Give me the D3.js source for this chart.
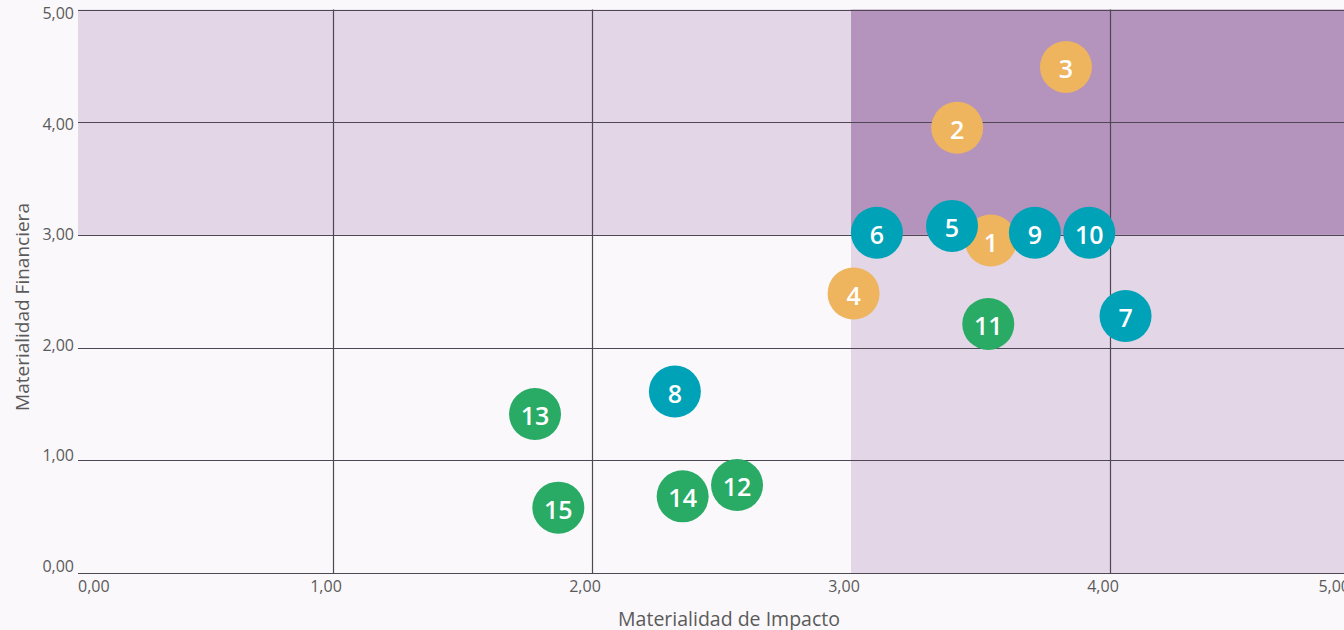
<!DOCTYPE html>
<html lang="es">
<head>
<meta charset="utf-8">
<script src="https://cdn.jsdelivr.net/npm/d3@7"></script>
<style>
  html, body { margin: 0; padding: 0; background: #faf8fb; overflow: hidden; }
  svg { display: block; font-family: "Open Sans", "Noto Sans", sans-serif; }
</style>
</head>
<body>
<svg id="chart" width="1344" height="630"></svg>
<script>
// Materiality matrix: topic id, impact materiality, financial materiality, group
const topicIds   = [1, 2, 3, 4, 5, 6, 7, 8, 9, 10, 11, 12, 13, 14, 15];
const impact     = [3.54, 3.41, 3.83, 3.01, 3.39, 3.10, 4.06, 2.32, 3.71, 3.92, 3.53, 2.56, 1.78, 2.35, 1.87];
const financial  = [2.95, 3.95, 4.49, 2.48, 3.08, 3.02, 2.28, 1.61, 3.02, 3.02, 2.21, 0.78, 1.41, 0.68, 0.58];
const group      = ["A", "A", "A", "A", "B", "B", "B", "B", "B", "B", "C", "C", "C", "C", "C"];
const groupNames = ["A", "B", "C"];
const groupColors = ["#eeb45e", "#00a2b7", "#29ab66"];

const tickValues = [0, 1, 2, 3, 4, 5];
const tickLabels = ["0,00", "1,00", "2,00", "3,00", "4,00", "5,00"];
const threshold = 3;   // materiality threshold on both axes

const xTitle = "Materialidad de Impacto";
const yTitle = "Materialidad Financiera";

const svg = d3.select("#chart");
const plotLeft = 78;

const x = d3.scaleLinear().domain([0, 5]).range([74, 1369]);
const y = d3.scaleLinear().domain([0, 5]).range([573, 9.5]);
// tick label placement scales
const xl = d3.scaleLinear().domain([0, 5]).range([67, 1362]);
const yl = d3.scaleLinear().domain([0, 5]).range([566, 13]);
const color = d3.scaleOrdinal().domain(groupNames).range(groupColors);

// shaded regions of the matrix
const regions = [
  { x0: 0, x1: threshold, y0: threshold, y1: 5, fill: "#e2d6e7" },
  { x0: threshold, x1: 5, y0: 0, y1: threshold, fill: "#e2d6e7" },
  { x0: threshold, x1: 5, y0: threshold, y1: 5, fill: "#b494bd" }
];
svg.append("g").selectAll("rect").data(regions).join("rect")
  .attr("x", d => Math.max(plotLeft, x(d.x0)))
  .attr("width", d => x(d.x1) - Math.max(plotLeft, x(d.x0)))
  .attr("y", d => y(d.y1)).attr("height", d => y(d.y0) - y(d.y1))
  .attr("fill", d => d.fill);

// grid
const grid = svg.append("g").attr("stroke", "#4f4753").attr("stroke-width", 1.2);
grid.selectAll("line.h").data(tickValues).join("line").attr("class", "h")
  .attr("x1", plotLeft).attr("x2", x(5))
  .attr("y1", d => Math.round(y(d)) + 0.5).attr("y2", d => Math.round(y(d)) + 0.5);
grid.selectAll("line.v").data(tickValues.filter(v => v !== 0 && v !== threshold)).join("line").attr("class", "v")
  .attr("y1", y(5)).attr("y2", y(0))
  .attr("x1", d => Math.round(x(d)) + 0.5).attr("x2", d => Math.round(x(d)) + 0.5);

// tick labels
const tickFont = 16, tickColor = "#5a5a5a";
svg.append("g").selectAll("text").data(tickValues).join("text")
  .attr("x", 74).attr("y", d => yl(d))
  .attr("text-anchor", "end").attr("dominant-baseline", "central")
  .attr("font-size", tickFont).attr("fill", tickColor)
  .text((d, i) => tickLabels[i]);

svg.append("g").selectAll("text").data(tickValues).join("text")
  .attr("x", d => d === 0 ? plotLeft : d === 5 ? 1350 : xl(d))
  .attr("y", 586)
  .attr("text-anchor", d => d === 0 ? "start" : d === 5 ? "end" : "middle")
  .attr("dominant-baseline", "central")
  .attr("font-size", tickFont).attr("fill", tickColor)
  .text((d, i) => tickLabels[i]);

// axis titles
svg.append("text").attr("x", 729).attr("y", 618)
  .attr("text-anchor", "middle").attr("dominant-baseline", "central")
  .attr("font-size", 19.5).attr("fill", "#5a5a5a").text(xTitle);
svg.append("text").attr("transform", "translate(22,307) rotate(-90)")
  .attr("text-anchor", "middle").attr("dominant-baseline", "central")
  .attr("font-size", 19).attr("fill", "#5a5a5a").text(yTitle);

// topic bubbles
const pts = topicIds.map((id, i) => ({ id, ix: impact[i], fy: financial[i], g: group[i] }));
const node = svg.append("g").selectAll("g").data(pts).join("g")
  .attr("transform", d => `translate(${x(d.ix)},${y(d.fy)})`);
node.append("circle").attr("r", 26).attr("fill", d => color(d.g));
node.append("text")
  .attr("text-anchor", "middle").attr("dominant-baseline", "central")
  .attr("dy", 1)
  .attr("font-size", 25).attr("font-weight", 600).attr("fill", "#ffffff")
  .text(d => d.id);
</script>
</body>
</html>
